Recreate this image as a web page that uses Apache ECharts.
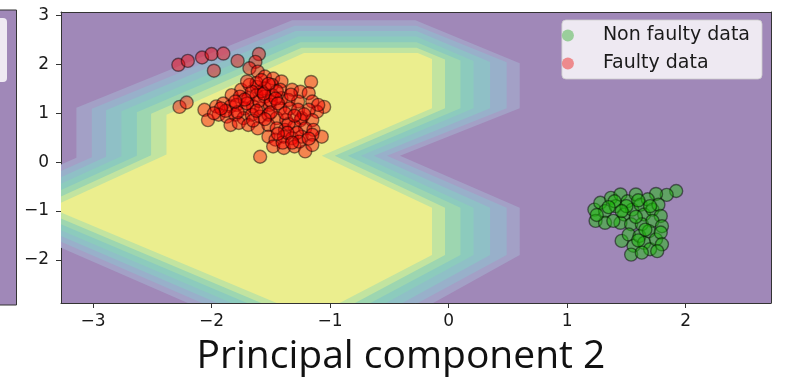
<!DOCTYPE html>
<html>
<head>
<meta charset="utf-8">
<script src="https://cdn.jsdelivr.net/npm/echarts@6/dist/echarts.min.js"></script>
<style>
  html, body { margin: 0; padding: 0; background: #fff; }
  #chart { width: 787px; height: 377px; }
</style>
</head>
<body>
<div id="chart"></div>
<script>
// tick labels
const xTicks = [-3, -2, -1, 0, 1, 2];
const yTicks = [-2, -1, 0, 1, 2, 3];

// decision contour, outer boundary first, yellow core last
const level0 = [[-3.27,-0.05],[-3.14,0.09],[-3.14,1.11],[-1.32,2.90],[-0.28,2.90],[0.60,2.02],[0.60,1.10],[-0.41,0.13],[0.60,-0.93],[0.60,-1.90],[-0.13,-2.88],[-2.20,-2.88],[-3.27,-1.75]];
const level1 = [[-3.27,-0.18],[-3.01,0.10],[-3.01,1.09],[-1.30,2.79],[-0.27,2.79],[0.49,2.04],[0.49,1.10],[-0.52,0.13],[0.49,-0.93],[0.49,-1.90],[-0.26,-2.88],[-2.08,-2.88],[-3.27,-1.63]];
const level2 = [[-3.27,-0.31],[-2.89,0.11],[-2.89,1.06],[-1.29,2.68],[-0.27,2.68],[0.35,2.05],[0.35,1.10],[-0.63,0.13],[0.35,-0.93],[0.35,-1.90],[-0.39,-2.88],[-1.95,-2.88],[-3.27,-1.51]];
const level3 = [[-3.27,-0.44],[-2.76,0.12],[-2.76,1.04],[-1.27,2.57],[-0.27,2.57],[0.21,2.07],[0.21,1.10],[-0.74,0.13],[0.21,-0.93],[0.21,-1.90],[-0.53,-2.88],[-1.83,-2.88],[-3.27,-1.39]];
const level4 = [[-3.27,-0.57],[-2.63,0.13],[-2.63,1.02],[-1.25,2.45],[-0.27,2.45],[0.10,2.08],[0.10,1.10],[-0.85,0.13],[0.10,-0.93],[0.10,-1.90],[-0.66,-2.88],[-1.70,-2.88],[-3.27,-1.27]];
const level5 = [[-3.27,-0.70],[-2.51,0.14],[-2.51,0.99],[-1.24,2.34],[-0.27,2.34],[-0.03,2.10],[-0.03,1.10],[-0.96,0.13],[-0.03,-0.93],[-0.03,-1.90],[-0.79,-2.88],[-1.58,-2.88],[-3.27,-1.15]];
const level6 = [[-3.27,-0.83],[-2.38,0.155],[-2.38,0.97],[-1.22,2.23],[-0.26,2.23],[-0.14,2.11],[-0.14,1.10],[-1.07,0.13],[-0.14,-0.93],[-0.14,-1.90],[-0.92,-2.88],[-1.45,-2.88],[-3.27,-1.03]];
const levels = [level0, level1, level2, level3, level4, level5, level6];
const levelColors = ['#a3a0c6', '#98b0ca', '#8fc0c6', '#8ccbbd', '#9dd6b0', '#c2e4a0', '#ebee8e'];

// non faulty points (green cluster)
const nonFaulty = [
  [1.92,-0.59],[1.84,-0.67],[1.75,-0.65],
  [1.23,-0.97],[1.24,-1.20],[1.28,-0.83],[1.32,-1.00],[1.37,-0.73],[1.41,-0.90],[1.45,-0.66],
  [1.48,-1.07],[1.51,-0.80],[1.55,-0.97],[1.58,-0.66],[1.62,-0.87],[1.65,-1.07],[1.68,-0.76],
  [1.72,-0.97],[1.77,-0.87],[1.79,-1.10],[1.45,-1.24],[1.54,-1.27],[1.63,-1.27],[1.72,-1.20],
  [1.80,-1.31],[1.32,-1.24],[1.39,-1.20],
  [1.46,-1.61],[1.52,-1.48],[1.56,-1.71],[1.61,-1.51],[1.65,-1.65],[1.69,-1.41],[1.70,-1.78],
  [1.75,-1.58],[1.79,-1.44],[1.80,-1.68],[1.54,-1.89],[1.63,-1.85],[1.76,-1.82],
  [1.40,-0.80],[1.50,-0.90],[1.60,-0.78],[1.46,-1.00],[1.58,-1.12],[1.66,-1.38],[1.60,-1.60],
  [1.35,-0.92],[1.70,-0.90],[1.25,-1.08]
];

// faulty points (red cluster)
const faulty = [
  [-2.28,1.99],[-2.20,2.07],[-2.08,2.14],[-2.00,2.21],[-1.90,2.22],[-1.78,2.07],[-1.98,1.87],
  [-1.60,2.21],[-1.63,2.05],[-2.27,1.13],[-2.21,1.22],[-1.59,0.11],
  [-1.16,1.64],[-1.05,1.13],[-1.07,0.52],[-1.11,1.03],[-1.24,0.90],
  [-1.68,1.92],[-1.61,1.85],[-1.55,1.75],[-1.48,1.71],[-1.41,1.65],
  [-1.75,1.48],[-1.68,1.58],[-1.62,1.54],[-1.55,1.51],[-1.49,1.58],[-1.42,1.48],[-1.32,1.48],[-1.25,1.44],[-1.18,1.41],
  [-1.83,1.37],[-1.76,1.34],[-1.69,1.31],[-1.62,1.37],[-1.55,1.34],[-1.49,1.37],[-1.41,1.31],[-1.35,1.27],[-1.27,1.24],[-1.15,1.24],[-1.10,1.17],
  [-2.06,1.07],[-1.96,1.14],[-1.90,1.20],[-1.84,1.14],[-1.79,1.17],[-1.72,1.10],[-1.65,1.14],[-1.58,1.10],[-1.51,1.17],[-1.42,1.10],[-1.34,1.10],[-1.27,1.07],[-1.18,1.07],
  [-2.03,0.86],[-1.94,0.97],[-1.87,0.93],[-1.80,0.97],[-1.73,0.90],[-1.66,0.97],[-1.59,0.93],[-1.52,0.97],[-1.45,0.90],[-1.37,0.86],[-1.25,0.86],[-1.15,0.86],
  [-1.84,0.76],[-1.77,0.80],[-1.69,0.76],[-1.61,0.69],[-1.52,0.76],[-1.45,0.69],[-1.38,0.66],[-1.30,0.73],[-1.21,0.69],[-1.14,0.66],
  [-1.52,0.52],[-1.46,0.46],[-1.39,0.52],[-1.32,0.49],[-1.24,0.52],[-1.15,0.56],
  [-1.48,0.32],[-1.39,0.29],[-1.30,0.32],[-1.21,0.22],[-1.15,0.35],
  [-1.60,1.25],[-1.70,1.20],[-1.50,1.25],[-1.45,1.45],[-1.58,1.45],[-1.88,1.05],[-1.35,0.78],
  [-1.28,0.60],[-1.40,0.40],[-1.62,1.62],[-1.50,1.02],[-1.78,1.02],[-1.33,1.38],[-1.22,0.98],[-1.65,0.85],
  [-1.66,1.44],[-1.56,1.40],[-1.46,1.30],[-1.72,1.28],[-1.80,1.24],[-1.62,1.05],[-1.55,0.88],
  [-1.44,1.20],[-1.38,1.00],[-1.30,0.95],[-1.36,0.60],[-1.26,0.42],[-1.18,0.48],[-1.32,0.40],
  [-1.92,1.10],[-1.98,1.00],[-1.58,1.68],[-1.52,1.60],[-1.70,1.65],[-1.44,0.58]
];

const xMin = -3.27, xMax = 2.72, yMin = -2.88, yMax = 3.07;
const minus = v => String(v).replace('-', '\u2212');

const chart = echarts.init(document.getElementById('chart'));

const tickLabel = { fontSize: 17, color: '#1a1a1a', fontFamily: '"DejaVu Sans", sans-serif' };

const option = {
  animation: false,
  grid: {
    left: 61, right: 16, top: 12, bottom: 74,
    show: true, backgroundColor: '#a088b8', borderWidth: 0
  },
  xAxis: [{
    type: 'value', min: xMin, max: xMax,
    axisLine: { show: true, onZero: false, lineStyle: { color: '#333', width: 1 } },
    axisTick: { show: true, length: 5, customValues: xTicks, lineStyle: { color: '#333' } },
    axisLabel: Object.assign({ customValues: xTicks, margin: 10, formatter: minus }, tickLabel),
    splitLine: { show: false }
  }, {
    type: 'value', position: 'top', min: xMin, max: xMax,
    axisLine: { show: true, onZero: false, lineStyle: { color: '#333', width: 1 } },
    axisTick: { show: false }, axisLabel: { show: false }, splitLine: { show: false }
  }],
  yAxis: [{
    type: 'value', min: yMin, max: yMax,
    axisLine: { show: true, onZero: false, lineStyle: { color: '#333', width: 1 } },
    axisTick: { show: true, length: 5, customValues: yTicks, lineStyle: { color: '#333' } },
    axisLabel: Object.assign({ customValues: yTicks, margin: 12, formatter: minus }, tickLabel),
    splitLine: { show: false }
  }, {
    type: 'value', position: 'right', min: yMin, max: yMax,
    axisLine: { show: true, onZero: false, lineStyle: { color: '#333', width: 1 } },
    axisTick: { show: false }, axisLabel: { show: false }, splitLine: { show: false }
  }],
  legend: {
    right: 25, top: 20, orient: 'vertical', icon: 'circle',
    itemWidth: 60, itemHeight: 12, itemGap: 7,
    padding: [5, 12, 5, 0],
    backgroundColor: 'rgba(255,255,255,0.82)',
    borderColor: 'rgba(204,204,204,0.8)', borderWidth: 1, borderRadius: 4,
    textStyle: { fontSize: 19, lineHeight: 21, color: '#1a1a1a', fontFamily: '"DejaVu Sans", sans-serif' },
    data: [
      { name: 'Non faulty data', itemStyle: { color: '#84c784', borderWidth: 0 } },
      { name: 'Faulty data', itemStyle: { color: '#ee7273', borderWidth: 0 } }
    ]
  },
  graphic: [
    { type: 'rect', shape: { x: -5, y: 10, width: 21.5, height: 295 },
      style: { fill: '#a088b8', stroke: '#333', lineWidth: 1 } },
    { type: 'rect', shape: { x: -10, y: 18, width: 17, height: 64, r: 4 },
      style: { fill: 'rgba(255,255,255,0.82)' } },
    { type: 'text', x: 401, y: 357,
      style: { text: 'Principal component 2', font: '39px "Open Sans"', fill: '#111', align: 'center', verticalAlign: 'middle' } }
  ],
  series: [
    {
      type: 'custom', name: 'contour', clip: true, silent: true, z: 1,
      data: levels.map((l, i) => [i]),
      renderItem: function (params, api) {
        const pts = levels[params.dataIndex].map(p => api.coord(p));
        return { type: 'polygon', shape: { points: pts }, style: { fill: levelColors[params.dataIndex] } };
      }
    },
    {
      type: 'scatter', name: 'Non faulty data', data: nonFaulty, symbolSize: 13, z: 3,
      itemStyle: { color: 'rgba(30,190,10,0.6)', borderColor: 'rgba(0,0,0,0.6)', borderWidth: 1.4 }
    },
    {
      type: 'scatter', name: 'Faulty data', data: faulty, symbolSize: 13, z: 3,
      itemStyle: { color: 'rgba(255,0,0,0.55)', borderColor: 'rgba(0,0,0,0.6)', borderWidth: 1.4 }
    }
  ]
};

chart.setOption(option);
</script>
</body>
</html>
